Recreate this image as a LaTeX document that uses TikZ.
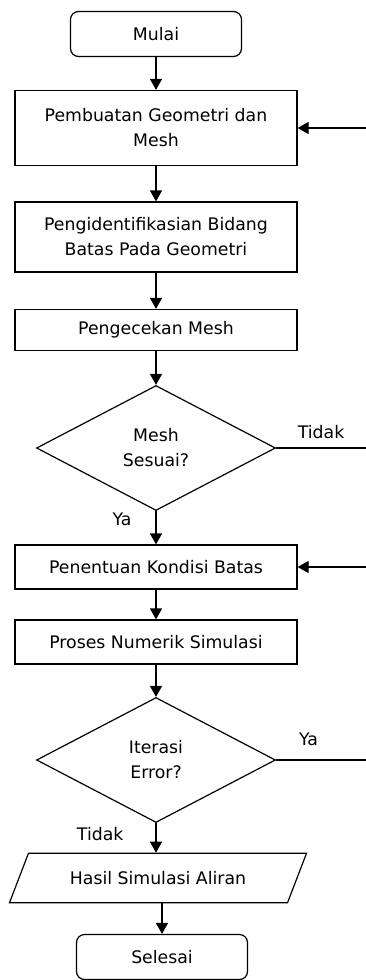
\documentclass[tikz,border=0pt]{standalone}
\usepackage{fontspec}
\setmainfont{DejaVu Sans}
\usetikzlibrary{arrows.meta, shapes.geometric}

\begin{document}
\begin{tikzpicture}[x=1pt, y=-1pt, font=\fontsize{17.3}{25}\selectfont, >={Triangle[length=11pt,width=12pt]}]
        \tikzset{
            base_node/.style={draw, line width=1.2pt, align=center, inner sep=0pt},
            process_node/.style={base_node, shape = rectangle, minimum width=282pt, minimum height=44pt},
            terminal/.style={base_node, shape = rectangle, rounded corners=8pt, minimum width=171pt, minimum height=45pt},
            decision/.style={base_node, shape = diamond, minimum width=239pt, minimum height=125pt},
            data_node/.style={base_node, shape = trapezium, trapezium left angle=69, trapezium right angle=111, trapezium stretches body, inner ysep=18pt, minimum width=297pt},
            flow/.style={line width=1.2pt},
            answer/.style={inner sep=0pt}
        }
        \useasboundingbox (0,0) rectangle (366,980);
        \node[terminal] (A) at (156,34) {Mulai};
        \node[process_node, minimum height=75pt] (B) at (156,128) {Pembuatan Geometri dan\\Mesh};
        \node[process_node, minimum height=70pt] (C) at (156,237) {Pengidentifikasian Bidang\\Batas Pada Geometri};
        \node[process_node, minimum height=41pt] (D) at (156,330) {Pengecekan Mesh};
        \node[decision] (E) at (156,448) {Mesh\\Sesuai?};
        \node[process_node] (F) at (156,567) {Penentuan Kondisi Batas};
        \node[process_node] (G) at (156,642) {Proses Numerik Simulasi};
        \node[decision] (H) at (156,760) {Iterasi\\Error?};
        \node[data_node] (I) at (158,878) {Hasil Simulasi Aliran};
        \node[terminal] (J) at (162,957) {Selesai};
        \coordinate (B_in) at (366,128);
        \coordinate (E_out) at (366,448);
        \coordinate (F_in) at (366,567);
        \coordinate (H_out) at (366,760);
        \path[flow, ->] (A) edge (B);
        \path[flow, ->] (B) edge (C);
        \path[flow, ->] (C) edge (D);
        \path[flow, ->] (D) edge (E);
        \path[flow] (E) edge node[answer, pos=0.5, above=9pt] {Tidak} (E_out);
        \path[flow, ->] (E) edge node[answer, pos=0.26, left=24pt] {Ya} (F);
        \path[flow, ->] (F) edge (G);
        \path[flow, ->] (G) edge (H);
        \path[flow] (H) edge node[answer, pos=0.36, above=14pt] {Ya} (H_out);
        \path[flow, ->] (H.south) edge node[answer, pos=0.37, left=32pt] {Tidak} (H.south |- I.north);
        \path[flow, ->] (I.south -| J) edge (J);
        \path[flow, ->] (B_in) edge (B);
        \path[flow, ->] (F_in) edge (F);
    \end{tikzpicture}
\end{document}
